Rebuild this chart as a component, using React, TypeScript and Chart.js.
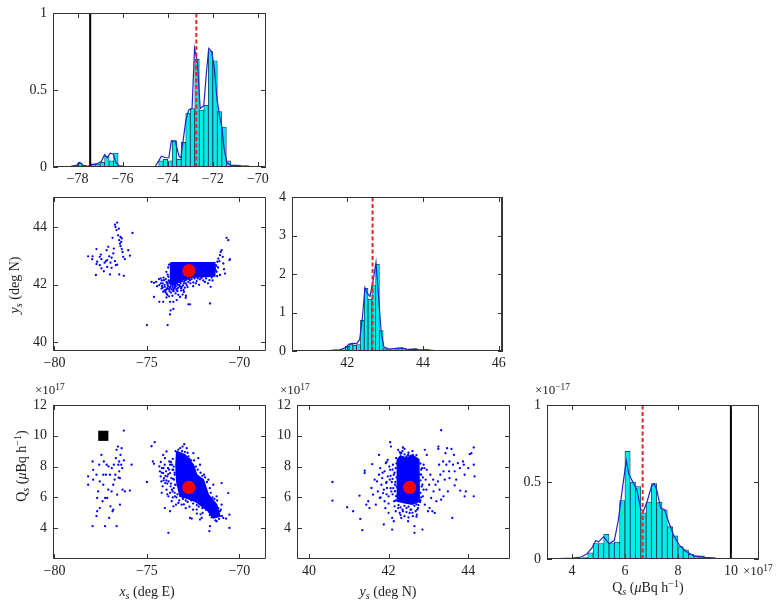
import React, { useEffect, useRef } from 'react';
import { Chart, registerables } from 'chart.js';

Chart.register(...registerables);

type Pt = [number, number];

// ---------- x_s marginal histogram (deg E) ----------
const xsBins: Pt[] = [[-78.1,0.01],[-77.9,0.025],[-77.7,0.01],[-77.5,0],[-77.3,0.02],[-77.1,0.02],[-76.9,0.03],[-76.7,0.07],[-76.5,0.04],[-76.3,0.09],[-76.1,0.01],[-75.9,0],[-75.7,0],[-75.5,0],[-75.3,0],[-75.1,0],[-74.9,0],[-74.7,0],[-74.5,0.005],[-74.3,0.04],[-74.1,0.05],[-73.9,0.04],[-73.7,0.17],[-73.5,0.05],[-73.3,0.16],[-73.1,0.35],[-72.9,0.38],[-72.7,0.70],[-72.5,0.37],[-72.3,0.40],[-72.1,0.75],[-71.9,0.69],[-71.7,0.36],[-71.5,0.26],[-71.3,0.04],[-71.1,0.01],[-70.9,0.01],[-70.7,0],[-70.5,0.01]];
const xsKde: Pt[] = [[-78.8,0],[-78.3,0.005],[-78.05,0.01],[-77.9,0.03],[-77.75,0.01],[-77.55,0.005],[-77.35,0.015],[-77.15,0.02],[-76.95,0.035],[-76.8,0.08],[-76.68,0.06],[-76.55,0.09],[-76.42,0.085],[-76.3,0.03],[-76.15,0.005],[-75.8,0.002],[-75.0,0],[-74.55,0.005],[-74.4,0.04],[-74.28,0.07],[-74.1,0.06],[-73.95,0.06],[-73.84,0.17],[-73.67,0.17],[-73.5,0.07],[-73.42,0.06],[-73.2,0.30],[-73.07,0.37],[-72.92,0.38],[-72.81,0.77],[-72.68,0.68],[-72.56,0.38],[-72.4,0.40],[-72.28,0.62],[-72.18,0.77],[-72.05,0.75],[-71.93,0.64],[-71.82,0.45],[-71.7,0.33],[-71.6,0.26],[-71.5,0.12],[-71.38,0.03],[-71.2,0.01],[-70.9,0.01],[-70.6,0.005],[-70.3,0]];
const xsEstimate = -72.73;
const xsTrue = -77.44;
const xsHistTicksX = [-78, -76, -74, -72, -70];
const histTicksY01 = [0, 0.5, 1];

// ---------- y_s marginal histogram (deg N) ----------
const ysBins: Pt[] = [[41.5,0.02],[41.6,0.02],[41.7,0.03],[41.8,0.02],[41.9,0.03],[42.0,0.12],[42.1,0.18],[42.2,0.15],[42.3,0.17],[42.4,0.80],[42.5,1.63],[42.6,1.35],[42.7,1.70],[42.8,2.25],[42.9,0.53],[43.0,0.06],[43.1,0.04],[43.2,0.03],[43.3,0.04],[43.4,0.08],[43.5,0.07],[43.6,0.03],[43.7,0.02],[43.8,0.06],[43.9,0.02],[44.0,0.01],[44.1,0.04],[44.2,0.02]];
const ysKde: Pt[] = [[40.55,0],[41.0,0.003],[41.5,0.01],[41.8,0.03],[41.95,0.08],[42.05,0.18],[42.15,0.2],[42.25,0.19],[42.33,0.3],[42.4,0.85],[42.47,1.65],[42.53,1.5],[42.6,1.42],[42.68,1.8],[42.76,2.3],[42.83,1.4],[42.9,0.45],[42.97,0.1],[43.1,0.05],[43.3,0.07],[43.45,0.08],[43.6,0.04],[43.75,0.05],[43.9,0.03],[44.1,0.03],[44.3,0.01],[44.55,0]];
const ysEstimate = 42.67;
const ysTrue = 46.09;
const ysHistTicksX = [42, 44, 46];
const ysHistTicksY = [0, 1, 2, 3, 4];

// ---------- Q_s marginal histogram (x10^17 uBq/h) ----------
const qsBins: Pt[] = [[4.1,0.005],[4.3,0.005],[4.5,0.01],[4.7,0.04],[4.9,0.10],[5.1,0.10],[5.3,0.16],[5.5,0.10],[5.7,0.11],[5.9,0.38],[6.1,0.70],[6.3,0.50],[6.5,0.47],[6.7,0.30],[6.9,0.37],[7.1,0.49],[7.3,0.37],[7.5,0.32],[7.7,0.21],[7.9,0.15],[8.1,0.08],[8.3,0.06],[8.5,0.03],[8.7,0.02],[8.9,0.02],[9.1,0.01],[9.3,0.01]];
const qsKde: Pt[] = [[3.05,0],[3.5,0.003],[4.0,0.006],[4.3,0.01],[4.55,0.03],[4.75,0.07],[4.9,0.12],[5.0,0.11],[5.2,0.145],[5.4,0.10],[5.6,0.12],[5.75,0.25],[5.9,0.45],[6.05,0.64],[6.15,0.55],[6.3,0.50],[6.45,0.45],[6.6,0.32],[6.7,0.31],[6.85,0.38],[7.0,0.47],[7.1,0.49],[7.2,0.45],[7.35,0.33],[7.5,0.32],[7.65,0.24],[7.85,0.15],[8.05,0.09],[8.3,0.05],[8.6,0.02],[9.0,0.01],[9.5,0.003],[10.0,0.002],[11.0,0]];
const qsEstimate = 6.67;
const qsTrue = 10.0;
const qsHistTicksX = [4, 6, 8, 10];

// ---------- joint samples ----------
const estimateXY: Pt = [-72.73, 42.49];
const estimateXQ: Pt = [-72.73, 6.65];
const estimateYQ: Pt = [42.53, 6.65];
const trueXQ: Pt = [-77.36, 10.0];

const xyWestPts: Pt[] = [[-78.18,42.99],[-77.94,42.99],[-77.96,42.89],[-77.73,43.24],[-77.76,42.34],[-77.73,42.72],[-77.69,42.80],[-77.55,42.97],[-77.49,43.05],[-77.46,42.89],[-77.33,42.47],[-77.29,42.77],[-77.22,42.82],[-77.18,43.20],[-77.15,42.86],[-77.09,43.32],[-77.04,42.99],[-77.00,42.36],[-76.97,42.77],[-76.91,42.94],[-76.86,43.63],[-76.82,43.09],[-76.79,43.26],[-76.73,44.09],[-76.70,44.01],[-76.64,43.90],[-76.61,44.16],[-76.56,43.72],[-76.52,43.95],[-76.50,43.55],[-76.46,43.43],[-76.43,43.34],[-76.39,43.49],[-76.36,43.24],[-76.32,43.14],[-76.28,42.97],[-76.25,42.31],[-76.19,42.89],[-76.68,42.68],[-76.61,42.70],[-76.73,42.82],[-76.01,43.20],[-75.92,43.01],[-75.78,43.80],[-76.50,42.36],[-76.91,42.59],[-77.15,42.62],[-77.46,42.57],[-77.55,42.68],[-76.43,43.66],[-76.36,43.61]];
const xyEastPts: Pt[] = [[-74.75,42.10],[-74.62,42.07],[-74.33,41.99],[-74.26,42.22],[-74.21,41.87],[-74.15,42.05],[-74.12,41.76],[-74.08,42.16],[-74.03,41.93],[-73.99,41.82],[-73.94,42.10],[-73.94,41.70],[-73.88,41.99],[-73.84,42.28],[-73.81,41.85],[-73.75,42.05],[-73.72,41.93],[-73.70,41.73],[-73.66,42.16],[-73.61,41.99],[-73.57,41.85],[-73.54,42.10],[-73.48,41.93],[-73.45,42.22],[-73.39,42.05],[-73.36,41.87],[-73.30,42.16],[-73.25,41.99],[-73.21,42.10],[-73.12,41.93],[-73.07,42.20],[-73.00,42.05],[-72.94,42.16],[-72.85,41.99],[-72.76,42.10],[-72.67,42.16],[-72.49,42.08],[-72.31,42.13],[-72.13,42.19],[-71.86,42.10],[-71.62,42.16],[-71.55,41.93],[-73.94,41.56],[-73.75,41.41],[-73.57,41.41],[-73.39,41.47],[-73.21,41.58],[-73.07,41.66],[-72.89,41.62],[-72.76,41.32],[-72.67,41.32],[-71.59,41.35],[-74.12,41.41],[-74.33,41.41],[-74.62,41.58],[-73.72,41.11],[-73.75,40.97],[-75.0,40.60],[-73.88,40.60],[-73.57,41.16],[-71.41,42.39],[-71.32,42.57],[-71.27,42.68],[-71.23,42.45],[-71.19,42.80],[-71.14,42.91],[-71.08,42.82],[-71.05,43.03],[-71.01,43.14],[-70.96,43.20],[-70.90,42.97],[-70.87,42.74],[-70.83,42.54],[-70.78,42.39],[-70.54,42.86],[-70.51,42.89],[-70.69,43.63],[-70.60,43.55],[-71.05,42.34],[-71.68,42.34],[-74.05,41.80],[-73.9,41.88],[-73.6,41.80],[-73.8,42.12],[-73.5,42.0],[-73.35,41.78],[-73.15,41.8],[-72.95,41.9],[-74.18,41.95],[-73.62,41.62]];
const xyEastFuzz: Pt[] = [[-74.25,42.05],[-74.2,42.15],[-74.15,41.9],[-74.1,42.25],[-74.05,42.0],[-74.0,41.75],[-73.98,42.2],[-73.92,41.85],[-73.9,42.05],[-73.85,41.95],[-73.82,42.15],[-73.78,41.78],[-73.76,41.9],[-73.7,42.0],[-73.68,41.85],[-73.65,42.08],[-73.6,41.92],[-73.58,42.2],[-73.55,41.78],[-73.52,42.02],[-73.5,41.88],[-73.47,42.12],[-73.44,41.95],[-73.4,41.82],[-73.38,42.15],[-73.33,42.0],[-73.3,41.9],[-73.27,42.1],[-73.22,41.95],[-73.18,42.05],[-73.15,41.88],[-73.1,42.12],[-73.05,41.98],[-73.02,41.82],[-72.98,42.12],[-72.9,42.05],[-72.85,42.18],[-72.8,41.92],[-72.72,42.2],[-72.65,42.05],[-72.58,42.2],[-72.5,41.95],[-72.42,42.22],[-72.35,42.05],[-72.25,42.22],[-72.18,42.0],[-72.05,42.24],[-71.95,42.15],[-71.8,42.22],[-71.7,42.05],[-71.5,42.25],[-71.45,42.15],[-73.9,41.65],[-73.8,41.6],[-73.45,41.7],[-73.3,41.65],[-73.0,41.75],[-72.9,41.55],[-74.35,42.2],[-74.45,41.95],[-74.5,42.1],[-73.88,42.35],[-73.95,42.45],[-73.85,42.6],[-73.8,42.7],[-71.25,42.65],[-71.2,42.3],[-71.28,42.5],[-71.15,42.6]];
const xyCore: Pt[] = [[-73.72,42.77],[-71.33,42.77],[-71.33,42.30],[-72.6,42.26],[-73.2,42.15],[-73.5,42.0],[-73.75,42.05]];

const xqWestPts: Pt[] = [[-78.18,7.36],[-78.18,6.82],[-77.94,8.33],[-77.91,7.79],[-77.91,7.15],[-77.94,4.13],[-77.73,7.47],[-77.73,4.78],[-77.69,5.96],[-77.69,5.10],[-77.64,6.39],[-77.58,8.12],[-77.55,7.04],[-77.46,8.76],[-77.40,5.75],[-77.36,6.82],[-77.33,8.33],[-77.27,4.13],[-77.26,5.96],[-77.22,7.47],[-77.18,8.12],[-77.15,5.96],[-77.08,8.01],[-77.04,4.67],[-77.00,7.47],[-76.97,5.42],[-76.91,6.39],[-76.90,7.90],[-76.86,5.10],[-76.82,6.82],[-76.79,8.12],[-76.75,7.15],[-76.71,7.47],[-76.68,8.55],[-76.64,4.13],[-76.64,9.09],[-76.61,6.18],[-76.57,9.30],[-76.55,8.12],[-76.53,7.28],[-76.50,8.33],[-76.46,7.25],[-76.46,5.53],[-76.43,8.76],[-76.39,8.12],[-76.37,9.19],[-76.34,7.90],[-76.32,6.50],[-76.25,10.34],[-76.25,8.40],[-76.19,6.39],[-76.82,5.21],[-77.55,5.31],[-77.09,6.50],[-77.36,7.47],[-76.50,7.69],[-75.83,8.12],[-75.92,6.44]];
const xqEastPts: Pt[] = [[-74.75,9.32],[-74.58,9.58],[-74.68,8.33],[-74.62,8.18],[-75.0,7.0],[-74.33,8.01],[-74.30,7.69],[-74.26,7.36],[-74.22,7.04],[-74.19,7.90],[-74.15,6.72],[-74.12,7.58],[-74.08,7.25],[-74.04,8.12],[-74.03,8.55],[-74.01,6.93],[-73.97,7.69],[-73.94,6.50],[-73.90,7.36],[-73.86,7.90],[-73.84,6.07],[-73.83,7.04],[-73.79,8.33],[-73.75,7.58],[-73.72,6.72],[-73.68,7.25],[-73.66,5.75],[-73.65,8.12],[-73.61,6.39],[-73.57,7.79],[-73.54,7.15],[-73.50,7.47],[-73.48,6.07],[-73.47,6.82],[-73.43,5.53],[-74.12,8.76],[-73.94,8.98],[-73.75,8.12],[-73.84,3.70],[-74.03,5.31],[-73.75,5.10],[-73.57,5.42],[-73.30,5.64],[-73.12,5.53],[-73.07,9.30],[-72.98,9.45],[-72.85,9.19],[-72.67,4.67],[-72.58,4.62],[-72.31,5.21],[-72.13,4.56],[-72.04,4.67],[-71.62,3.81],[-71.59,4.13],[-71.41,5.53],[-71.23,4.45],[-71.14,5.31],[-71.05,5.10],[-70.96,5.53],[-70.87,4.67],[-70.72,4.62],[-70.60,6.28],[-70.54,4.88],[-70.54,4.02],[-70.96,6.93],[-71.91,7.47],[-71.68,7.15],[-71.41,6.82],[-71.23,6.07],[-72.13,8.12],[-72.22,8.55],[-72.49,8.87],[-72.76,8.66],[-71.80,5.53],[-71.99,4.99],[-74.2,6.3],[-73.9,6.2],[-73.6,6.0],[-74.1,7.9],[-73.95,7.1],[-73.7,6.9]];
const xqEastFuzz: Pt[] = [[-73.6,8.5],[-73.55,8.0],[-73.5,7.6],[-73.55,6.6],[-73.5,6.3],[-73.45,9.0],[-73.3,9.1],[-73.2,9.2],[-73.1,9.0],[-72.95,8.95],[-72.8,8.9],[-72.7,8.5],[-72.6,8.4],[-72.45,8.4],[-72.35,8.0],[-72.25,7.8],[-72.1,7.6],[-72.0,7.4],[-71.85,7.3],[-71.75,7.0],[-71.6,6.6],[-71.55,6.3],[-71.45,6.0],[-71.35,5.9],[-71.2,5.8],[-71.15,5.0],[-71.0,5.2],[-70.95,4.8],[-71.1,4.6],[-71.3,4.5],[-71.5,4.7],[-71.6,4.85],[-71.8,5.2],[-72.0,5.3],[-72.2,5.4],[-72.3,5.5],[-72.5,5.6],[-72.6,5.8],[-72.8,5.7],[-72.9,5.8],[-73.05,5.9],[-73.25,5.8],[-73.35,6.2],[-73.4,6.0],[-73.45,6.8],[-73.58,7.2],[-73.62,7.8],[-73.7,8.3],[-73.8,7.8],[-73.85,7.5],[-73.9,6.9],[-74.0,7.4],[-74.1,7.1],[-74.2,7.6],[-74.25,8.3],[-73.65,6.5],[-73.75,6.3],[-72.1,4.9],[-72.3,4.95],[-72.5,5.2],[-72.7,5.4],[-72.9,5.3],[-73.0,5.55]];
const xqCore: Pt[] = [[-73.39,8.98],[-72.94,8.76],[-72.49,8.12],[-72.31,7.47],[-71.95,7.15],[-71.68,6.18],[-71.23,5.53],[-71.05,4.78],[-71.41,4.67],[-71.68,5.10],[-72.13,5.53],[-72.40,5.75],[-72.85,5.96],[-73.21,6.07],[-73.39,7.04],[-73.43,8.12]];

const yqPts: Pt[] = [[40.59,7.00],[40.59,5.79],[40.96,5.36],[41.11,5.10],[41.27,6.11],[41.29,4.60],[41.34,3.87],[41.40,7.73],[41.40,7.58],[41.44,5.53],[41.49,5.75],[41.52,5.31],[41.57,6.61],[41.59,8.16],[41.61,6.18],[41.65,7.15],[41.68,5.53],[41.71,7.04],[41.73,6.39],[41.76,8.76],[41.76,7.47],[41.78,5.96],[41.79,7.90],[41.82,6.82],[41.84,7.25],[41.86,6.28],[41.88,4.24],[41.90,7.69],[41.90,5.75],[41.93,8.22],[41.94,6.93],[41.96,6.61],[41.98,7.36],[41.98,8.44],[42.00,6.07],[42.03,7.15],[42.04,7.79],[42.04,9.58],[42.06,9.30],[42.07,6.39],[42.09,4.67],[42.09,3.91],[42.11,8.12],[42.13,7.47],[42.14,5.75],[42.16,6.82],[42.18,5.10],[42.19,8.55],[42.19,6.07],[42.15,5.42],[42.13,4.45],[42.24,9.09],[42.28,8.94],[42.32,8.87],[42.36,9.24],[42.40,9.15],[42.45,8.66],[42.49,8.76],[42.53,8.44],[42.57,8.33],[42.61,8.76],[42.65,8.33],[42.70,8.44],[42.24,5.31],[42.28,4.99],[42.32,4.67],[42.36,5.10],[42.40,4.78],[42.45,5.31],[42.49,4.45],[42.53,4.99],[42.57,5.21],[42.61,4.78],[42.65,4.13],[42.68,5.10],[42.71,4.88],[42.74,5.31],[42.65,3.70],[42.85,3.91],[42.82,7.47],[42.85,6.82],[42.86,6.07],[42.88,8.12],[42.91,5.53],[42.93,7.15],[42.95,6.50],[42.96,7.79],[42.99,5.10],[43.02,6.82],[43.03,5.31],[43.05,7.47],[43.07,5.96],[43.10,5.10],[43.12,7.15],[43.13,6.39],[43.16,4.99],[43.18,6.82],[43.20,5.75],[43.24,7.04],[43.25,9.30],[43.25,9.15],[43.27,8.12],[43.28,6.50],[43.30,7.47],[43.32,10.36],[43.32,5.85],[43.37,8.33],[43.38,7.69],[43.41,7.15],[43.43,8.87],[43.45,8.12],[43.47,9.19],[43.49,6.39],[43.52,7.69],[43.53,8.33],[43.58,9.15],[43.60,4.67],[43.62,8.12],[43.64,8.76],[43.66,7.69],[43.70,7.15],[43.74,8.22],[43.79,7.90],[43.80,6.44],[43.87,8.33],[43.89,8.12],[43.91,7.47],[43.91,6.07],[43.94,6.39],[44.00,7.90],[44.04,8.81],[44.08,8.87],[44.14,9.24],[44.14,8.12],[44.14,6.07],[44.16,7.36],[43.66,6.78],[42.96,8.76],[42.91,9.09],[43.38,6.07],[43.53,7.25],[41.95,7.0],[41.88,6.5],[42.05,6.6],[42.1,7.2],[42.02,8.0],[41.92,5.3],[42.0,5.0],[42.8,5.8],[42.84,7.9]];
const yqFuzz: Pt[] = [[42.2,8.2],[42.18,7.9],[42.15,7.6],[42.2,7.3],[42.17,7.0],[42.2,6.7],[42.16,6.4],[42.2,6.1],[42.18,5.8],[42.1,7.8],[42.08,7.0],[42.1,6.2],[42.12,6.6],[42.05,7.4],[42.8,8.2],[42.82,7.8],[42.79,7.5],[42.8,7.1],[42.83,6.7],[42.8,6.3],[42.82,6.0],[42.79,5.7],[42.86,7.3],[42.88,6.5],[42.9,7.9],[42.3,8.85],[42.4,8.8],[42.5,8.9],[42.55,8.7],[42.7,8.75],[42.35,9.0],[42.6,9.0],[42.25,5.5],[42.3,5.35],[42.4,5.45],[42.5,5.4],[42.55,5.2],[42.65,5.45],[42.7,5.55],[42.75,5.5],[42.35,5.2],[42.45,5.05],[42.6,5.0],[42.72,5.2],[42.3,4.85],[42.5,4.7],[42.7,4.75],[41.95,6.2],[41.85,7.6],[41.8,6.0],[42.0,5.6],[41.95,8.3]];
const yqCore: Pt[] = [[42.22,8.45],[42.3,8.7],[42.45,8.55],[42.6,8.75],[42.76,8.45],[42.77,5.75],[42.6,5.55],[42.4,5.65],[42.22,5.75]];

const scatterTicksX = [-80, -75, -70];
const ysTicks = [40, 42, 44];
const qsTicks = [4, 6, 8, 10, 12];

// ---------- layout helpers ----------
const FONT = "'Liberation Serif', 'DejaVu Serif', serif";
const ML = 46, MT = 8, MR = 8, MB = 26;
const fmt = (v: number) => (v < 0 ? '\u2212' + Math.abs(v) : String(v));
const toXY = (a: Pt[]) => a.map(([x, y]) => ({ x, y }));
const closed = (a: Pt[]) => toXY([...a, a[0]]);

const framePlugin = {
  id: 'frame',
  afterDraw(chart: any) {
    const { ctx, chartArea: a, scales } = chart;
    const tl = 5;
    ctx.save();
    ctx.strokeStyle = '#333';
    ctx.lineWidth = 1;
    ctx.beginPath();
    ctx.rect(a.left + 0.5, a.top + 0.5, a.right - a.left - 1, a.bottom - a.top - 1);
    for (const t of scales.x.ticks) {
      const px = Math.round(scales.x.getPixelForValue(t.value)) + 0.5;
      ctx.moveTo(px, a.bottom); ctx.lineTo(px, a.bottom - tl);
      ctx.moveTo(px, a.top); ctx.lineTo(px, a.top + tl);
    }
    for (const t of scales.y.ticks) {
      const py = Math.round(scales.y.getPixelForValue(t.value)) + 0.5;
      ctx.moveTo(a.left, py); ctx.lineTo(a.left + tl, py);
      ctx.moveTo(a.right, py); ctx.lineTo(a.right - tl, py);
    }
    ctx.stroke();
    ctx.restore();
  },
};

function axis(min: number, max: number, ticks: number[], isX: boolean) {
  return {
    type: 'linear',
    min,
    max,
    offset: false,
    grid: { display: false, drawTicks: false },
    border: { display: false },
    ticks: {
      font: { family: FONT, size: 14 },
      color: '#222',
      padding: isX ? 4 : 6,
      autoSkip: false,
      maxRotation: 0,
      callback: (v: number) => fmt(v),
    },
    afterBuildTicks: (s: any) => {
      s.ticks = ticks.map((v) => ({ value: v }));
    },
    afterFit: (s: any) => {
      if (isX) s.height = MB; else s.width = ML;
      s.paddingLeft = 0; s.paddingRight = 0; s.paddingTop = 0; s.paddingBottom = 0;
    },
  };
}

function baseOptions(xr: number[], yr: number[], xt: number[], yt: number[]) {
  return {
    responsive: false,
    animation: false,
    devicePixelRatio: 1,
    events: [],
    layout: { padding: { top: MT, right: MR, left: 0, bottom: 0 } },
    plugins: { legend: { display: false }, tooltip: { enabled: false } },
    scales: { x: axis(xr[0], xr[1], xt, true), y: axis(yr[0], yr[1], yt, false) },
  };
}

function histConfig(bins: Pt[], kde: Pt[], est: number, truth: number, xr: number[], yr: number[], xt: number[], yt: number[]) {
  return {
    type: 'bar',
    data: {
      datasets: [
        { type: 'line', data: [{ x: est, y: yr[0] }, { x: est, y: yr[1] }], borderColor: '#e3262b', borderWidth: 2, borderDash: [4, 2.5], pointRadius: 0, order: 1 },
        { type: 'line', data: [{ x: truth, y: yr[0] }, { x: truth, y: yr[1] }], borderColor: '#000', borderWidth: 2, pointRadius: 0, order: 1 },
        { type: 'line', data: toXY(kde), borderColor: '#2222cc', borderWidth: 1.2, pointRadius: 0, tension: 0, order: 2 },
        { type: 'bar', data: toXY(bins), backgroundColor: '#00ecec', borderColor: '#1b3441', borderWidth: 0.8, barPercentage: 1, categoryPercentage: 1, order: 3 },
      ],
    },
    options: baseOptions(xr, yr, xt, yt),
    plugins: [framePlugin],
  };
}

function scatterConfig(pts: Pt[][], core: Pt[], est: Pt, truth: Pt | null, xr: number[], yr: number[], xt: number[], yt: number[]) {
  const ds: any[] = [
    { data: [{ x: est[0], y: est[1] }], pointRadius: 6.6, backgroundColor: '#ff0000', borderWidth: 0, order: 0 },
  ];
  if (truth) ds.push({ data: [{ x: truth[0], y: truth[1] }], pointStyle: 'rect', pointRadius: 7.2, backgroundColor: '#000', borderWidth: 0, order: 0 });
  ds.push({ type: 'line', data: closed(core), fill: 'shape', backgroundColor: '#0000ff', borderColor: '#0000ff', borderWidth: 1.5, pointRadius: 0, tension: 0, order: 5 });
  for (const p of pts) ds.push({ data: toXY(p), pointRadius: 1.15, backgroundColor: '#0000ff', borderWidth: 0, order: 6 });
  return { type: 'scatter', data: { datasets: ds }, options: baseOptions(xr, yr, xt, yt), plugins: [framePlugin] };
}

type Rect = { l: number; t: number; w: number; h: number };

function Panel({ rect, build }: { rect: Rect; build: () => any }) {
  const ref = useRef<HTMLCanvasElement>(null);
  useEffect(() => {
    const chart = new Chart(ref.current as HTMLCanvasElement, build());
    return () => chart.destroy();
  }, []);
  const W = rect.w + ML + MR, H = rect.h + MT + MB;
  return <canvas ref={ref} width={W} height={H} style={{ position: 'absolute', left: rect.l - ML, top: rect.t - MT, width: W, height: H }} />;
}

const subS = { fontSize: '0.72em', fontStyle: 'italic' as const, position: 'relative' as const, top: '0.3em' };
const supS = { fontSize: '0.72em', position: 'relative' as const, top: '-0.45em' };

function Label({ x, y, rot, size = 14, children }: { x: number; y: number; rot?: boolean; size?: number; children: any }) {
  return (
    <div style={{ position: 'absolute', left: x, top: y, transform: `translate(-50%,-50%)${rot ? ' rotate(-90deg)' : ''}`, fontFamily: FONT, fontSize: size, color: '#222', whiteSpace: 'nowrap', lineHeight: 1 }}>
      {children}
    </div>
  );
}

function Exp({ x, y, e }: { x: number; y: number; e: string }) {
  return (
    <div style={{ position: 'absolute', left: x, top: y, fontFamily: FONT, fontSize: 13, color: '#222', whiteSpace: 'nowrap', lineHeight: 1 }}>
      ×10<span style={supS}>{e}</span>
    </div>
  );
}

const QLabel = () => (
  <>Q<span style={subS}>s</span> (<i>μ</i>Bq h<span style={supS}>−1</span>)</>
);

export default function App() {
  return (
    <div style={{ position: 'absolute', left: 0, top: 0, width: 783, height: 608, background: '#fff', overflow: 'hidden' }}>
      <Panel rect={{ l: 53, t: 13, w: 213, h: 154 }} build={() => histConfig(xsBins, xsKde, xsEstimate, xsTrue, [-79.09, -69.64], [0, 1], xsHistTicksX, histTicksY01)} />
      <Panel rect={{ l: 53, t: 197, w: 213, h: 154 }} build={() => scatterConfig([xyWestPts, xyEastPts, xyEastFuzz], xyCore, estimateXY, null, [-80.08, -68.56], [39.7, 45.05], scatterTicksX, ysTicks)} />
      <Panel rect={{ l: 292, t: 197, w: 211, h: 154 }} build={() => histConfig(ysBins, ysKde, ysEstimate, ysTrue, [40.545, 46.11], [0, 4], ysHistTicksX, ysHistTicksY)} />
      <Panel rect={{ l: 53, t: 405, w: 213, h: 154 }} build={() => scatterConfig([xqWestPts, xqEastPts, xqEastFuzz], xqCore, estimateXQ, trueXQ, [-80.08, -68.56], [2, 12], scatterTicksX, qsTicks)} />
      <Panel rect={{ l: 297, t: 405, w: 213, h: 154 }} build={() => scatterConfig([yqPts, yqFuzz], yqCore, estimateYQ, null, [39.7, 45.05], [2, 12], ysTicks, qsTicks)} />
      <Panel rect={{ l: 547, t: 405, w: 212, h: 154 }} build={() => histConfig(qsBins, qsKde, qsEstimate, qsTrue, [3.06, 11.06], [0, 1], qsHistTicksX, histTicksY01)} />

      <Label x={15} y={285} rot><i>y</i><span style={subS}>s</span> (deg N)</Label>
      <Label x={22} y={466} rot><QLabel /></Label>
      <Label x={147} y={592}><i>x</i><span style={subS}>s</span> (deg E)</Label>
      <Label x={388} y={592}><i>y</i><span style={subS}>s</span> (deg N)</Label>
      <Label x={648} y={588}><QLabel /></Label>

      <Exp x={35} y={383} e="17" />
      <Exp x={280} y={383} e="17" />
      <Exp x={535} y={383} e="−17" />
      <Exp x={743} y={564} e="17" />
    </div>
  );
}
